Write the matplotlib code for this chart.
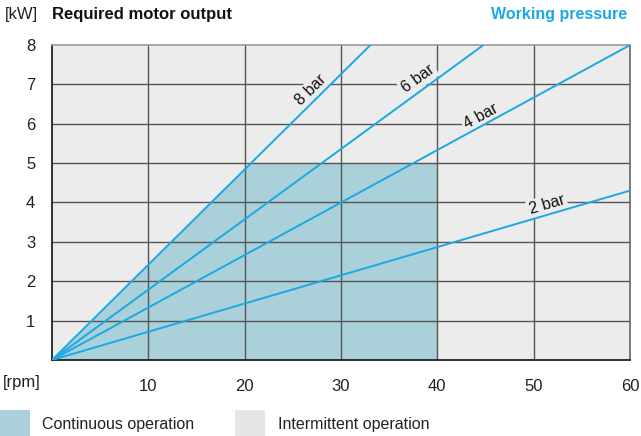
import matplotlib.pyplot as plt
from matplotlib.patches import Polygon, Rectangle
import numpy as np

# data
rpm_max = 60
pressures = ['8 bar', '6 bar', '4 bar', '2 bar']
slopes = [0.242, 0.1786, 0.1333, 0.0717]          # kW per rpm
label_pos = [(26.9, 6.85), (38.0, 7.14), (44.5, 6.2), (51.4, 3.94)]
cont_rpm_max = 40
cont_kw_max = 5
x_ticks = [10, 20, 30, 40, 50, 60]
y_ticks = [1, 2, 3, 4, 5, 6, 7, 8]

bg = '#ececec'
shade = '#aad0da'
blue = '#1aa9e3'
grid = '#555555'

plt.rcParams['font.family'] = ['Liberation Sans', 'DejaVu Sans']

fig = plt.figure(figsize=(6.41, 4.36), dpi=100)
ax = fig.add_axes([52/641, 76/436, 578/641, 315/436])
ax.set_facecolor(bg)
ax.set_xlim(0, 60)
ax.set_ylim(0, 8)

# continuous operation area: under 8 bar line, capped at 5 kW and 40 rpm
x_cap = cont_kw_max / slopes[0]
poly = Polygon([(0, 0), (x_cap, cont_kw_max), (cont_rpm_max, cont_kw_max),
                (cont_rpm_max, 0)], closed=True, facecolor=shade,
               edgecolor='none', zorder=1)
ax.add_patch(poly)

for xv in x_ticks[:-1]:
    ax.axvline(xv, color=grid, lw=1, zorder=2)
for yv in y_ticks[:-1]:
    ax.axhline(yv, color=grid, lw=1, zorder=2)

# pressure lines
px_per_x = 578 / 60
px_per_y = 315 / 8
for name, k, (lx, ly) in zip(pressures, slopes, label_pos):
    x_end = min(rpm_max, 8 / k)
    ax.plot([0, x_end], [0, k * x_end], color=blue, lw=1.4, zorder=4,
            solid_capstyle='butt')
    ang = np.degrees(np.arctan(k * px_per_y / px_per_x))
    ax.text(lx, ly, name, rotation=ang, rotation_mode='anchor',
            ha='center', va='center', fontsize=11.5, color='#111111', zorder=3,
            bbox=dict(facecolor=bg, edgecolor='none', pad=1.5))

ax.set_xticks(x_ticks)
ax.set_yticks(y_ticks)
ax.tick_params(length=0, labelsize=12, colors='#222222')
ax.tick_params(axis='x', pad=14)
ax.tick_params(axis='y', pad=12)

for s in ['left', 'bottom']:
    ax.spines[s].set_color('#222222')
    ax.spines[s].set_linewidth(1.3)
ax.spines['top'].set_color('#999999')
ax.spines['right'].set_color('#666666')
ax.spines['top'].set_linewidth(1.2)
ax.spines['right'].set_linewidth(1.2)

# header and axis unit texts
fig.text(5/641, 1 - 15/436, '[kW]', fontsize=12, va='center', color='#222222')
fig.text(52/641, 1 - 15/436, 'Required motor output', fontsize=12,
         fontweight='bold', va='center', color='#111111')
fig.text(627/641, 1 - 15/436, 'Working pressure', fontsize=11.5,
         fontweight='bold', va='center', ha='right', color=blue)
fig.text(3/641, 1 - 382/436, '[rpm]', fontsize=12, va='center', color='#222222')

# legend
fig.patches.append(Rectangle((0, 0), 30/641, 26/436, transform=fig.transFigure,
                             facecolor=shade, edgecolor='none'))
fig.text(42/641, 1 - 424/436, 'Continuous operation', fontsize=11.5,
         va='center', color='#222222')
fig.patches.append(Rectangle((235/641, 0), 30/641, 26/436,
                             transform=fig.transFigure,
                             facecolor='#e6e6e8', edgecolor='none'))
fig.text(278/641, 1 - 424/436, 'Intermittent operation', fontsize=11.5,
         va='center', color='#222222')

fig.savefig('out.png', dpi=100)
